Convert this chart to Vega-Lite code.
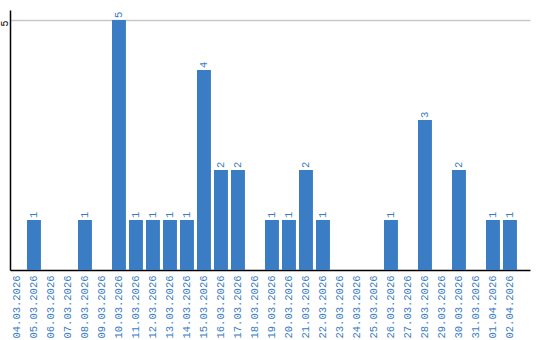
{
  "$schema": "https://vega.github.io/schema/vega-lite/v6.json",
  "autosize": "none",
  "padding": {"left": 10, "top": 10, "right": 10, "bottom": 70},
  "width": 520,
  "height": 260,
  "background": "white",
  "config": {"view": {"stroke": null}, "font": "Liberation Mono"},
  "data": {"values": [
    {"date": "04.03.2026", "count": 0},
    {"date": "05.03.2026", "count": 1},
    {"date": "06.03.2026", "count": 0},
    {"date": "07.03.2026", "count": 0},
    {"date": "08.03.2026", "count": 1},
    {"date": "09.03.2026", "count": 0},
    {"date": "10.03.2026", "count": 5},
    {"date": "11.03.2026", "count": 1},
    {"date": "12.03.2026", "count": 1},
    {"date": "13.03.2026", "count": 1},
    {"date": "14.03.2026", "count": 1},
    {"date": "15.03.2026", "count": 4},
    {"date": "16.03.2026", "count": 2},
    {"date": "17.03.2026", "count": 2},
    {"date": "18.03.2026", "count": 0},
    {"date": "19.03.2026", "count": 1},
    {"date": "20.03.2026", "count": 1},
    {"date": "21.03.2026", "count": 2},
    {"date": "22.03.2026", "count": 1},
    {"date": "23.03.2026", "count": 0},
    {"date": "24.03.2026", "count": 0},
    {"date": "25.03.2026", "count": 0},
    {"date": "26.03.2026", "count": 1},
    {"date": "27.03.2026", "count": 0},
    {"date": "28.03.2026", "count": 3},
    {"date": "29.03.2026", "count": 0},
    {"date": "30.03.2026", "count": 2},
    {"date": "31.03.2026", "count": 0},
    {"date": "01.04.2026", "count": 1},
    {"date": "02.04.2026", "count": 1}
  ]},
  "encoding": {
    "x": {
      "field": "date", "type": "nominal", "sort": null,
      "scale": {"paddingInner": 0.18, "paddingOuter": 0.384, "align": 0},
      "axis": {
        "title": null, "ticks": false, "labelAngle": -90, "labelAlign": "right", "labelBaseline": "middle",
        "labelPadding": 5, "labelColor": "#3a7dc3", "labelFontSize": 10.5, "labelFont": "Liberation Mono",
        "domainColor": "#000000", "domainWidth": 1.5, "grid": false
      }
    },
    "y": {
      "field": "count", "type": "quantitative",
      "scale": {"domain": [0, 5.2], "nice": false},
      "axis": {
        "title": null, "values": [5], "ticks": false, "labelAngle": -90, "labelAlign": "right",
        "labelBaseline": "middle", "labelPadding": 6, "labelColor": "#000000", "labelFontSize": 10,
        "labelFont": "Liberation Mono",
        "domainColor": "#000000", "domainWidth": 1.5, "grid": true, "gridColor": "#c8c8c8", "gridWidth": 1.5
      }
    }
  },
  "layer": [
    {"mark": {"type": "bar", "color": "#3b7dc4"}},
    {
      "transform": [{"filter": "datum.count > 0"}],
      "mark": {"type": "text", "angle": -90, "align": "left", "baseline": "middle", "dx": 2, "color": "#3a7dc3", "fontSize": 10.5, "font": "Liberation Mono"},
      "encoding": {"text": {"field": "count", "type": "quantitative"}}
    }
  ]
}
